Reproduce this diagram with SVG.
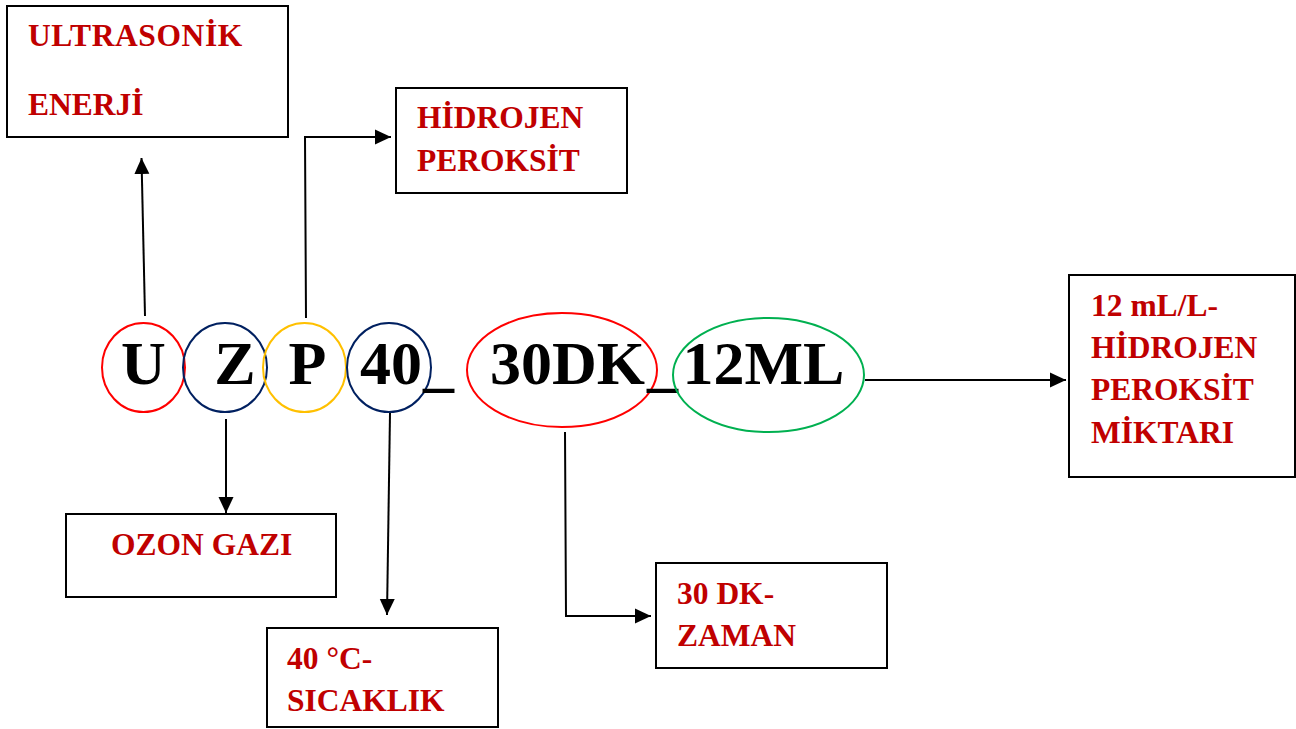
<svg xmlns="http://www.w3.org/2000/svg" width="1296" height="729" viewBox="0 0 1296 729">
<style>
.box{fill:#fff;stroke:#000;stroke-width:2}
.lbl{font-family:"Liberation Serif","Times New Roman",serif;font-weight:bold;font-size:31.5px;fill:#c00000}
.big{font-family:"Liberation Serif","Times New Roman",serif;font-weight:bold;font-size:62px;fill:#000}
.ring{fill:none;stroke-width:2}
.con{fill:none;stroke:#000;stroke-width:2}
</style>
<defs>
<marker id="ah" markerUnits="userSpaceOnUse" markerWidth="17" markerHeight="17" viewBox="0 0 17 17" refX="16" refY="8.5" orient="auto">
<path d="M0,1 L16,8.5 L0,16 Z" fill="#000"/>
</marker>
</defs>
<rect width="1296" height="729" fill="#fff"/>

<g id="connectors">
<path class="con" d="M145,316 L141.5,158" marker-end="url(#ah)"/>
<path class="con" d="M306,318 L305,137 L391,137" marker-end="url(#ah)"/>
<path class="con" d="M226,419 L226,513" marker-end="url(#ah)"/>
<path class="con" d="M390,413 L387,615" marker-end="url(#ah)"/>
<path class="con" d="M565,432 L566,616 L651,616" marker-end="url(#ah)"/>
<path class="con" d="M865,380 L1066,380" marker-end="url(#ah)"/>
</g>

<g id="code">
<g id="n-U"><ellipse class="ring" stroke="#ff0000" cx="143.5" cy="367.5" rx="41.5" ry="44.5"/><text class="big" x="143.5" y="384" text-anchor="middle">U</text></g>
<g id="n-Z"><ellipse class="ring" stroke="#002060" cx="225" cy="367.5" rx="42" ry="44.5"/><text class="big" x="235" y="384" text-anchor="middle">Z</text></g>
<g id="n-P"><ellipse class="ring" stroke="#ffc000" cx="304.5" cy="367.5" rx="41.5" ry="44.5"/><text class="big" x="307.5" y="384" text-anchor="middle">P</text></g>
<g id="n-40"><ellipse class="ring" stroke="#002060" cx="389" cy="367.5" rx="42" ry="44.5"/><text class="big" x="391" y="384" text-anchor="middle">40</text></g>
<text class="big" x="423" y="384">_</text>
<g id="n-30DK"><ellipse class="ring" stroke="#ff0000" cx="562" cy="370" rx="95" ry="57"/><text class="big" x="567.5" y="384" text-anchor="middle">30DK</text></g>
<text class="big" x="647" y="384">_</text>
<g id="n-12ML"><ellipse class="ring" stroke="#00b050" cx="768.5" cy="375" rx="95.5" ry="57"/><text class="big" x="763.5" y="384" text-anchor="middle">12ML</text></g>
</g>

<g id="b-ultrasonik"><rect class="box" x="7" y="6" width="281" height="131"/><text class="lbl" x="28" y="46" letter-spacing="0.6">ULTRASONİK</text><text class="lbl" x="28" y="115">ENERJİ</text></g>
<g id="b-hidrojen"><rect class="box" x="396" y="88" width="231" height="105"/><text class="lbl" x="417" y="128">HİDROJEN</text><text class="lbl" x="417" y="171">PEROKSİT</text></g>
<g id="b-miktar"><rect class="box" x="1069" y="275" width="226" height="202"/><text class="lbl" x="1091" y="316">12 mL/L-</text><text class="lbl" x="1091" y="358">HİDROJEN</text><text class="lbl" x="1091" y="400">PEROKSİT</text><text class="lbl" x="1091" y="443">MİKTARI</text></g>
<g id="b-ozon"><rect class="box" x="66" y="514" width="270" height="83"/><text class="lbl" x="111" y="555">OZON GAZI</text></g>
<g id="b-sicaklik"><rect class="box" x="267" y="628" width="231" height="99"/><text class="lbl" x="287" y="669">40 °C-</text><text class="lbl" x="287" y="711">SICAKLIK</text></g>
<g id="b-zaman"><rect class="box" x="656" y="563" width="231" height="105"/><text class="lbl" x="677" y="604">30 DK-</text><text class="lbl" x="677" y="646">ZAMAN</text></g>
</svg>
